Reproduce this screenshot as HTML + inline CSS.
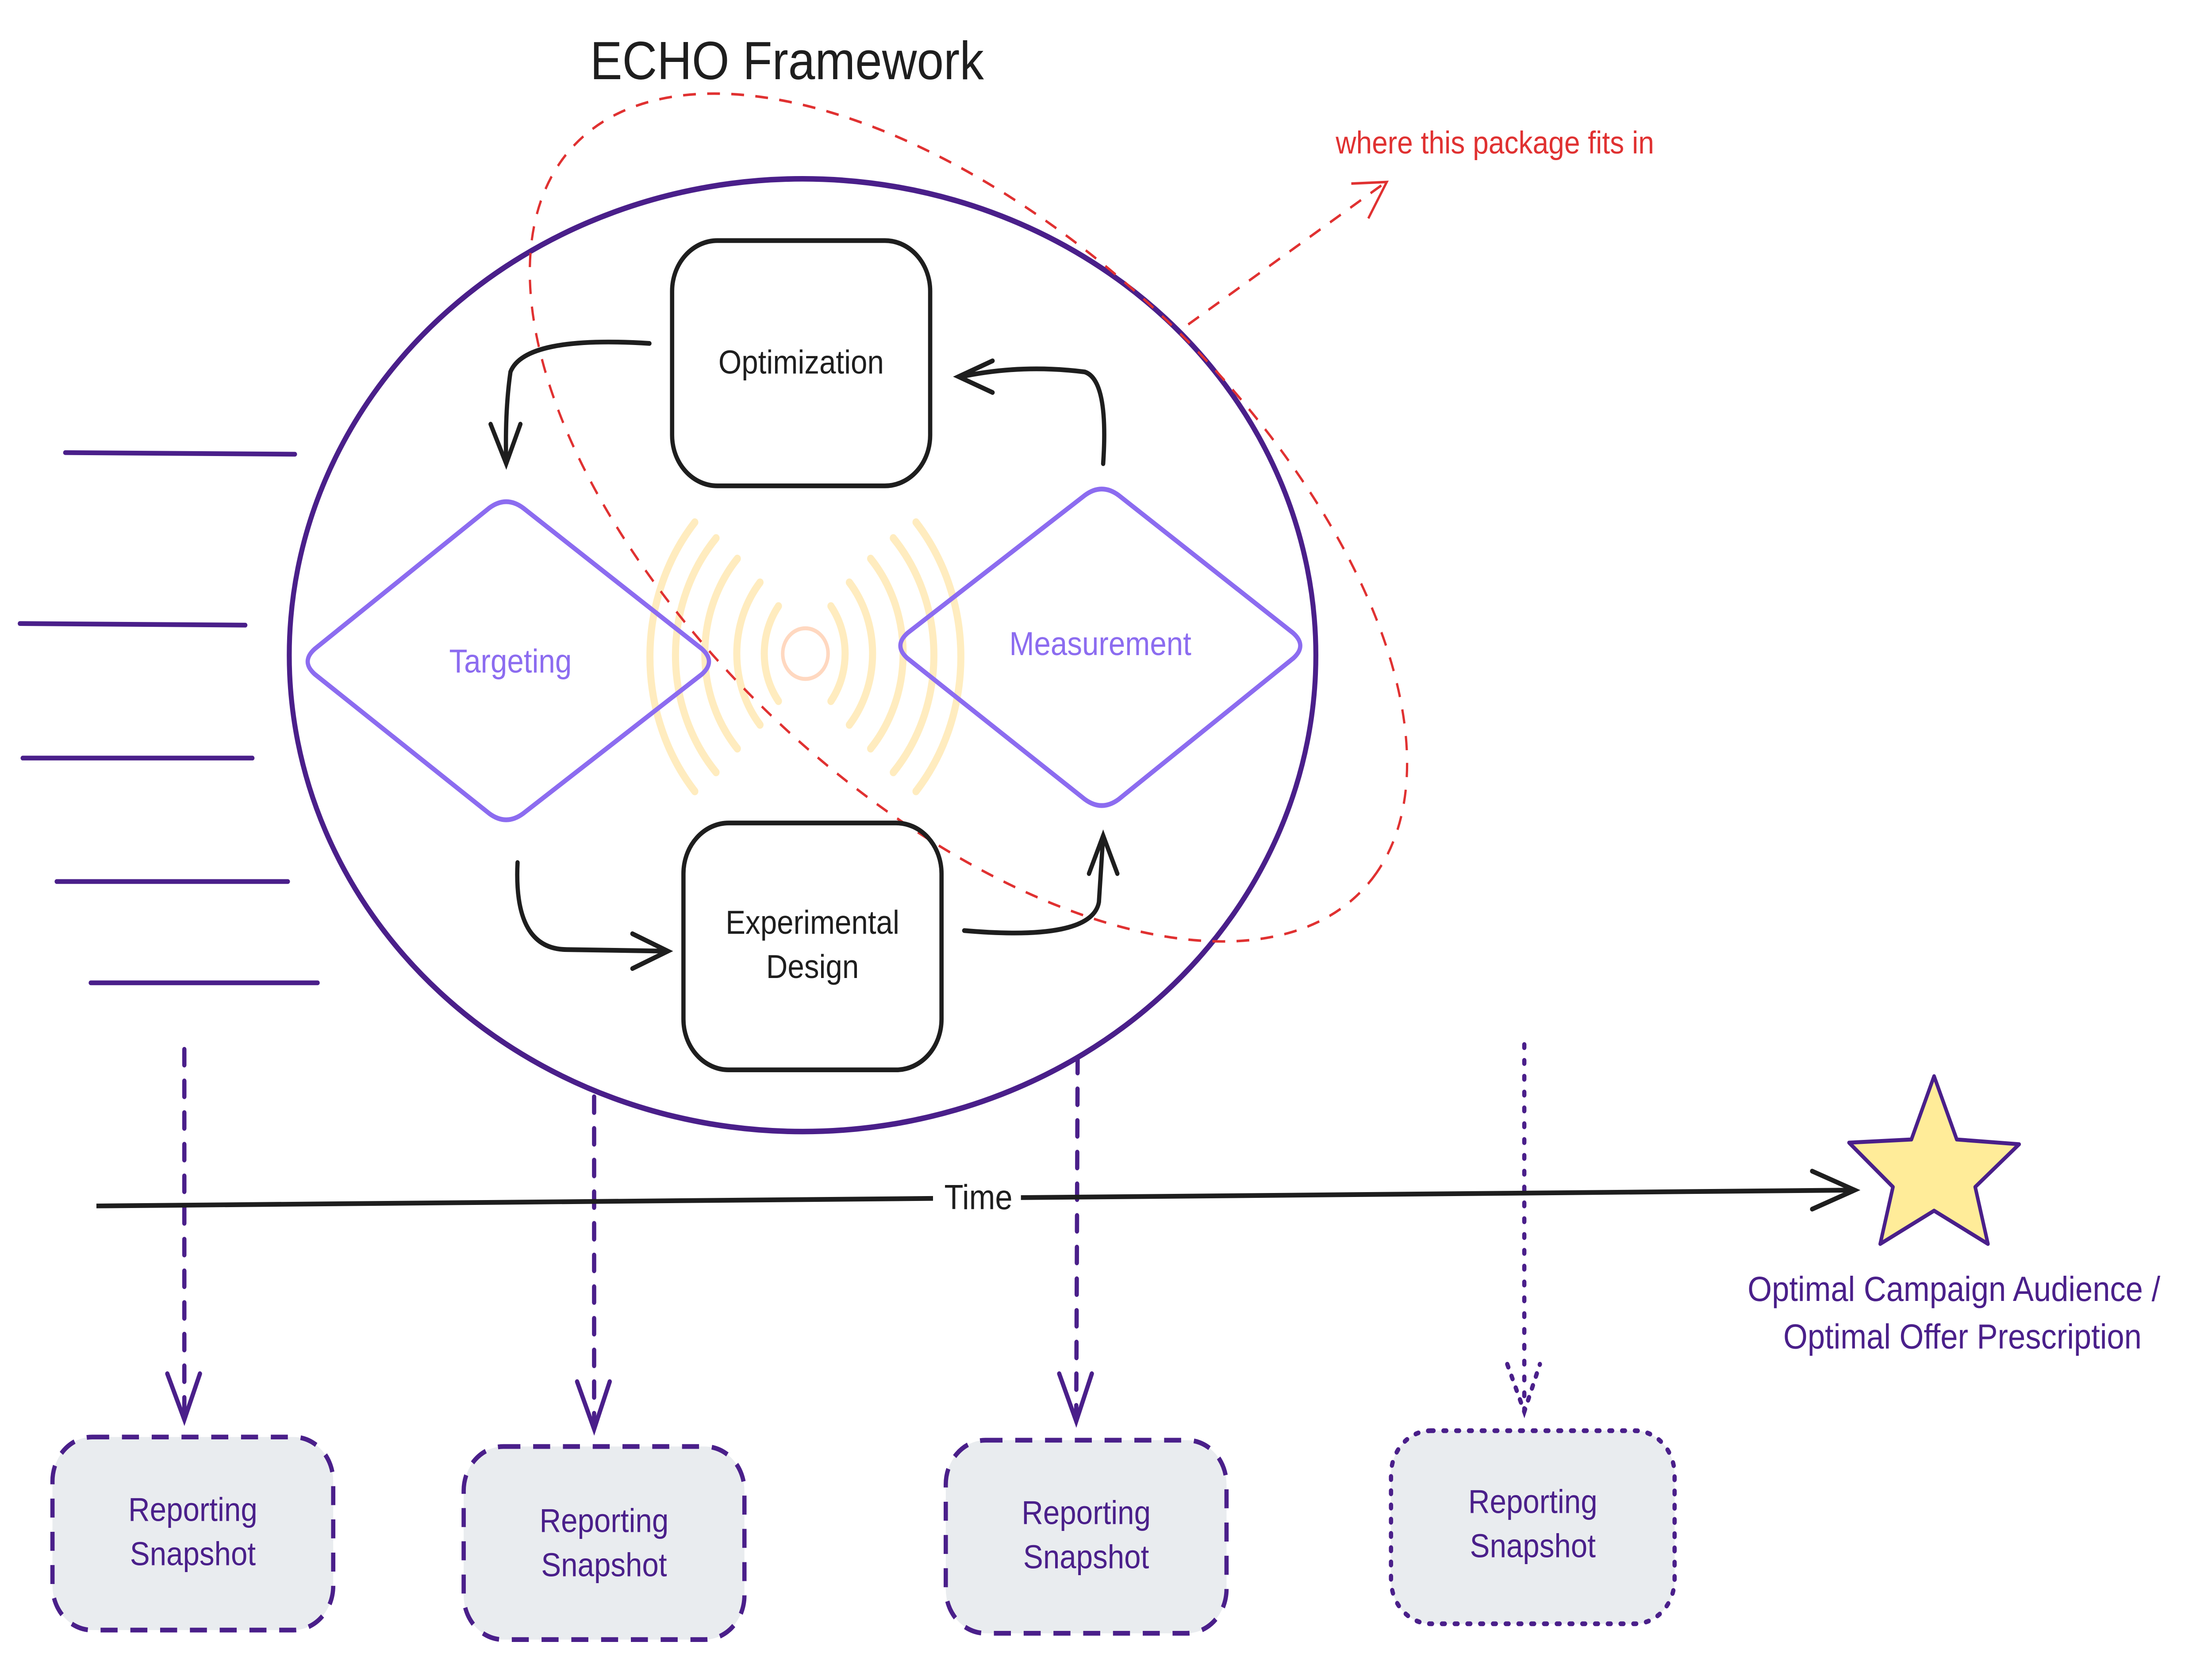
<!DOCTYPE html>
<html><head><meta charset="utf-8"><style>
html,body{margin:0;padding:0;background:#fff;width:100%;height:100%;overflow:hidden;}
svg{display:block;position:fixed;left:0;top:0;width:100vw;height:100vh;}
text{font-family:"Liberation Sans",sans-serif;}
</style></head><body>
<svg viewBox="0 0 1560 1047" preserveAspectRatio="none" xmlns="http://www.w3.org/2000/svg">
<rect width="1560" height="1047" fill="#fff"/>
<text x="555" y="50" font-size="34" text-anchor="middle" fill="#1e1e1e">ECHO Framework</text>

<g fill="none" stroke-linecap="round">
<circle cx="568" cy="413" r="16" stroke="#ffd8c0" stroke-width="2.5"/>
<g stroke="#ffe8b0" stroke-width="5" opacity="0.8">
<path d="M549,383 A50,50 0 0 0 549,443"/><path d="M586,383 A50,50 0 0 1 586,443"/>
<path d="M536,368 A70,70 0 0 0 536,458"/><path d="M599,368 A70,70 0 0 1 599,458"/>
<path d="M520,353 A90,90 0 0 0 520,473"/><path d="M614,353 A90,90 0 0 1 614,473"/>
<path d="M505,340 A110,110 0 0 0 505,488"/><path d="M630,340 A110,110 0 0 1 630,488"/>
<path d="M490,330 A130,130 0 0 0 490,500"/><path d="M646,330 A130,130 0 0 1 646,500"/>
</g></g>

<ellipse cx="566" cy="414" rx="362" ry="301" fill="none" stroke="#4a1f8a" stroke-width="3.5"/>

<ellipse cx="683" cy="327" rx="365" ry="185" transform="rotate(38 683 327)" fill="none" stroke="#e03131" stroke-width="1.6" stroke-dasharray="9 8"/>
<line x1="838" y1="205" x2="976" y2="116" stroke="#e03131" stroke-width="1.6" stroke-dasharray="9 8"/>
<path d="M953,116 L978,115 L965,138" fill="none" stroke="#e03131" stroke-width="1.6"/>
<text x="942" y="97" font-size="20" fill="#e03131">where this package fits in</text>

<rect x="474" y="152" width="182" height="155" rx="32" fill="none" stroke="#1e1e1e" stroke-width="3"/>
<text x="565" y="236" font-size="21" text-anchor="middle" fill="#1e1e1e">Optimization</text>
<rect x="482" y="520" width="182" height="156" rx="32" fill="none" stroke="#1e1e1e" stroke-width="3"/>
<text x="573" y="590" font-size="21" text-anchor="middle" fill="#1e1e1e">Experimental</text>
<text x="573" y="618" font-size="21" text-anchor="middle" fill="#1e1e1e">Design</text>

<path d="M222,410 L345,321 Q357,313 369,321 L495,410 Q505,418 495,426 L369,514 Q357,522 345,514 L222,426 Q212,418 222,410 Z" fill="none" stroke="#8c6cf0" stroke-width="3"/>
<text x="360" y="425" font-size="21" text-anchor="middle" fill="#8c6cf0">Targeting</text>
<path d="M640,400 L765,313 Q777,305 789,313 L912,400 Q922,408 912,416 L789,505 Q777,513 765,505 L640,416 Q630,408 640,400 Z" fill="none" stroke="#8c6cf0" stroke-width="3"/>
<text x="776" y="414" font-size="21" text-anchor="middle" fill="#8c6cf0">Measurement</text>

<g fill="none" stroke="#1e1e1e" stroke-width="3" stroke-linecap="round">
<path d="M458,217 Q370,212 360,235 Q356,260 357,292"/>
<path d="M346,268 L357,293 L367,268"/>
<path d="M778,293 Q782,240 765,235 Q720,230 678,238"/>
<path d="M700,228 L676,238 L700,248"/>
<path d="M365,545 Q362,600 400,600 L470,601"/>
<path d="M446,590 L471,601 L446,612"/>
<path d="M680,588 Q770,595 775,570 L778,528"/>
<path d="M768,552 L778,528 L788,552"/>
</g>

<g stroke="#4a1f8a" stroke-width="3" stroke-linecap="round">
<line x1="46" y1="286" x2="208" y2="287"/>
<line x1="14" y1="394" x2="173" y2="395"/>
<line x1="16" y1="479" x2="178" y2="479"/>
<line x1="40" y1="557" x2="203" y2="557"/>
<line x1="64" y1="621" x2="224" y2="621"/>
</g>

<g stroke="#4a1f8a" stroke-width="3" fill="none" stroke-linecap="round">
<line x1="130" y1="663" x2="130" y2="895" stroke-dasharray="10 10"/>
<path d="M118,868 L130,897 L141,868"/>
<line x1="419" y1="693" x2="419" y2="902" stroke-dasharray="10 10"/>
<path d="M407,873 L419,903 L430,873"/>
<line x1="760" y1="668" x2="759" y2="897" stroke-dasharray="10 10"/>
<path d="M747,868 L759,898 L770,868"/>
<line x1="1075" y1="660" x2="1075" y2="892" stroke-dasharray="2 8"/>
<path d="M1063,862 L1075,892 L1086,862" stroke-dasharray="2 6"/>
</g>

<line x1="68" y1="762" x2="1306" y2="752" stroke="#1e1e1e" stroke-width="3"/>
<path d="M1278,740 L1308,752 L1278,764" fill="none" stroke="#1e1e1e" stroke-width="3" stroke-linecap="round"/>
<rect x="658" y="743" width="62" height="26" fill="#fff"/>
<text x="690" y="764" font-size="22" text-anchor="middle" fill="#1e1e1e">Time</text>

<path d="M1364,680 L1380,720 L1424,723 L1393,750 L1402,786 L1364,765 L1326,786 L1335,750 L1304,722 L1348,720 Z" fill="#ffec99" stroke="#4a1f8a" stroke-width="2.5" stroke-linejoin="round"/>
<text x="1378" y="822" font-size="22" text-anchor="middle" fill="#4a1f8a">Optimal Campaign Audience /</text>
<text x="1384" y="852" font-size="22" text-anchor="middle" fill="#4a1f8a">Optimal Offer Prescription</text>

<g fill="#e9ecef" stroke="#4a1f8a" stroke-width="3">
<rect x="37" y="908" width="198" height="122" rx="28" stroke-dasharray="12 9"/>
<rect x="327" y="914" width="198" height="122" rx="28" stroke-dasharray="12 9"/>
<rect x="667" y="910" width="198" height="122" rx="28" stroke-dasharray="12 9"/>
<rect x="981" y="904" width="200" height="122" rx="28" stroke-dasharray="2 7" stroke-linecap="round"/>
</g>
<g font-size="21" text-anchor="middle" fill="#4a1f8a">
<text x="136" y="961">Reporting</text><text x="136" y="989">Snapshot</text>
<text x="426" y="968">Reporting</text><text x="426" y="996">Snapshot</text>
<text x="766" y="963">Reporting</text><text x="766" y="991">Snapshot</text>
<text x="1081" y="956">Reporting</text><text x="1081" y="984">Snapshot</text>
</g>
</svg>
</body></html>
